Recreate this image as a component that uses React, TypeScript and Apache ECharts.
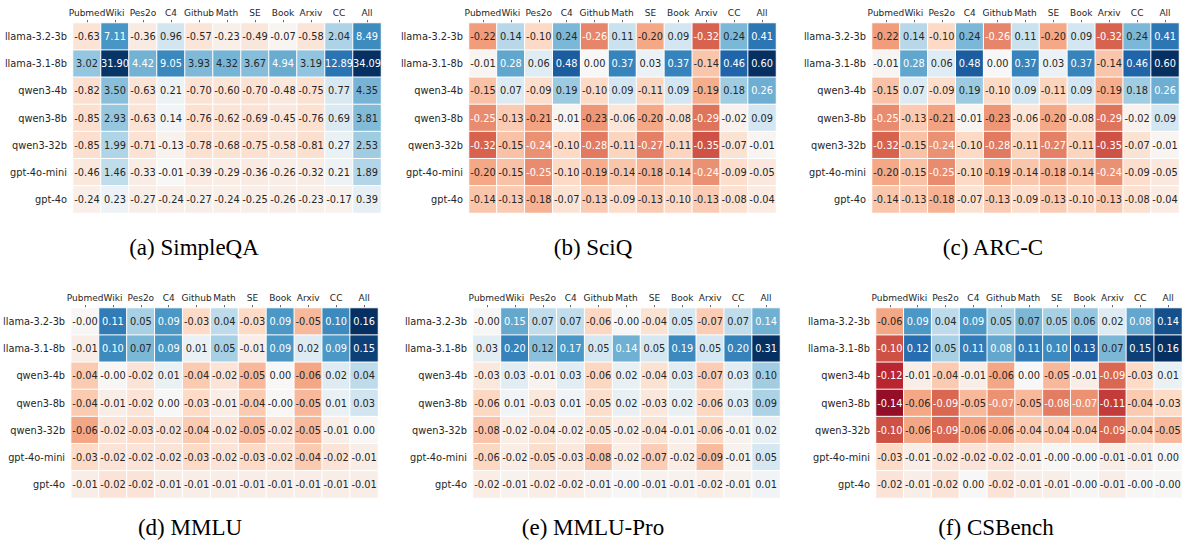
import React, { useEffect, useRef } from "react";
import * as echarts from "echarts";

const MODELS = ["llama-3.2-3b", "llama-3.1-8b", "qwen3-4b", "qwen3-8b", "qwen3-32b", "gpt-4o-mini", "gpt-4o"];
const SOURCES = ["Pubmed", "Wiki", "Pes2o", "C4", "Github", "Math", "SE", "Book", "Arxiv", "CC", "All"];

const SIMPLEQA = [
  [-0.63, 7.11, -0.36, 0.96, -0.57, -0.23, -0.49, -0.07, -0.58, 2.04, 8.49],
  [3.02, 31.9, 4.42, 9.05, 3.93, 4.32, 3.67, 4.94, 3.19, 12.89, 34.09],
  [-0.82, 3.5, -0.63, 0.21, -0.7, -0.6, -0.7, -0.48, -0.75, 0.77, 4.35],
  [-0.85, 2.93, -0.63, 0.14, -0.76, -0.62, -0.69, -0.45, -0.76, 0.69, 3.81],
  [-0.85, 1.99, -0.71, -0.13, -0.78, -0.68, -0.75, -0.58, -0.81, 0.27, 2.53],
  [-0.46, 1.46, -0.33, -0.01, -0.39, -0.29, -0.36, -0.26, -0.32, 0.21, 1.89],
  [-0.24, 0.23, -0.27, -0.24, -0.27, -0.24, -0.25, -0.26, -0.23, -0.17, 0.39],
];

const SCIQ = [
  [-0.22, 0.14, -0.1, 0.24, -0.26, 0.11, -0.2, 0.09, -0.32, 0.24, 0.41],
  [-0.01, 0.28, 0.06, 0.48, 0.0, 0.37, 0.03, 0.37, -0.14, 0.46, 0.6],
  [-0.15, 0.07, -0.09, 0.19, -0.1, 0.09, -0.11, 0.09, -0.19, 0.18, 0.26],
  [-0.25, -0.13, -0.21, -0.01, -0.23, -0.06, -0.2, -0.08, -0.29, -0.02, 0.09],
  [-0.32, -0.15, -0.24, -0.1, -0.28, -0.11, -0.27, -0.11, -0.35, -0.07, -0.01],
  [-0.2, -0.15, -0.25, -0.1, -0.19, -0.14, -0.18, -0.14, -0.24, -0.09, -0.05],
  [-0.14, -0.13, -0.18, -0.07, -0.13, -0.09, -0.13, -0.1, -0.13, -0.08, -0.04],
];

const ARCC = [
  [-0.22, 0.14, -0.1, 0.24, -0.26, 0.11, -0.2, 0.09, -0.32, 0.24, 0.41],
  [-0.01, 0.28, 0.06, 0.48, 0.0, 0.37, 0.03, 0.37, -0.14, 0.46, 0.6],
  [-0.15, 0.07, -0.09, 0.19, -0.1, 0.09, -0.11, 0.09, -0.19, 0.18, 0.26],
  [-0.25, -0.13, -0.21, -0.01, -0.23, -0.06, -0.2, -0.08, -0.29, -0.02, 0.09],
  [-0.32, -0.15, -0.24, -0.1, -0.28, -0.11, -0.27, -0.11, -0.35, -0.07, -0.01],
  [-0.2, -0.15, -0.25, -0.1, -0.19, -0.14, -0.18, -0.14, -0.24, -0.09, -0.05],
  [-0.14, -0.13, -0.18, -0.07, -0.13, -0.09, -0.13, -0.1, -0.13, -0.08, -0.04],
];

const MMLU = [
  [-0.001, 0.11, 0.05, 0.09, -0.03, 0.04, -0.03, 0.09, -0.05, 0.1, 0.16],
  [-0.01, 0.1, 0.07, 0.09, 0.01, 0.05, -0.01, 0.09, 0.02, 0.09, 0.15],
  [-0.04, -0.001, -0.02, 0.01, -0.04, -0.02, -0.05, 0.0, -0.06, 0.02, 0.04],
  [-0.04, -0.01, -0.02, 0.0, -0.03, -0.01, -0.04, -0.001, -0.05, 0.01, 0.03],
  [-0.06, -0.02, -0.03, -0.02, -0.04, -0.02, -0.05, -0.02, -0.05, -0.01, 0.0],
  [-0.03, -0.02, -0.02, -0.02, -0.03, -0.02, -0.03, -0.02, -0.04, -0.02, -0.01],
  [-0.01, -0.02, -0.02, -0.01, -0.01, -0.01, -0.01, -0.01, -0.01, -0.01, -0.01],
];

const MMLU_PRO = [
  [-0.001, 0.15, 0.07, 0.07, -0.06, -0.001, -0.04, 0.05, -0.07, 0.07, 0.14],
  [0.03, 0.2, 0.12, 0.17, 0.05, 0.14, 0.05, 0.19, 0.05, 0.2, 0.31],
  [-0.03, 0.03, -0.01, 0.03, -0.06, 0.02, -0.04, 0.03, -0.07, 0.03, 0.1],
  [-0.06, 0.01, -0.03, 0.01, -0.05, 0.02, -0.03, 0.02, -0.06, 0.03, 0.09],
  [-0.08, -0.02, -0.04, -0.02, -0.05, -0.02, -0.04, -0.01, -0.06, -0.01, 0.02],
  [-0.06, -0.02, -0.05, -0.03, -0.08, -0.02, -0.07, -0.02, -0.09, -0.01, 0.05],
  [-0.02, -0.01, -0.02, -0.02, -0.01, -0.001, -0.01, -0.01, -0.02, -0.01, 0.01],
];

const CSBENCH = [
  [-0.06, 0.09, 0.04, 0.09, 0.05, 0.07, 0.05, 0.06, 0.02, 0.08, 0.14],
  [-0.1, 0.12, 0.05, 0.11, 0.08, 0.11, 0.1, 0.13, 0.07, 0.15, 0.16],
  [-0.12, -0.01, -0.04, -0.01, -0.06, 0.0, -0.05, -0.01, -0.09, -0.03, 0.01],
  [-0.14, -0.06, -0.09, -0.05, -0.07, -0.05, -0.08, -0.07, -0.11, -0.04, -0.03],
  [-0.1, -0.06, -0.09, -0.06, -0.06, -0.04, -0.04, -0.04, -0.09, -0.04, -0.05],
  [-0.03, -0.01, -0.02, -0.02, -0.02, -0.01, -0.001, -0.001, -0.01, -0.01, 0.0],
  [-0.02, -0.01, -0.02, 0.0, -0.02, -0.01, -0.01, -0.001, -0.01, -0.001, -0.001],
];

const CAPTIONS = ["(a) SimpleQA", "(b) SciQ", "(c) ARC-C", "(d) MMLU", "(e) MMLU-Pro", "(f) CSBench"];
const PANEL_VALUES = [SIMPLEQA, SCIQ, ARCC, MMLU, MMLU_PRO, CSBENCH];

const RDBU = ["#67001f", "#b2182b", "#d6604d", "#f4a582", "#fddbc7", "#f7f7f7", "#d1e5f0", "#92c5de", "#4393c3", "#2166ac", "#053061"];

const GRIDS = [
  { left: 73, top: 23, width: 308, height: 190 },
  { left: 469, top: 23, width: 307, height: 190 },
  { left: 872, top: 23, width: 307, height: 190 },
  { left: 69, top: 308, width: 309, height: 190 },
  { left: 473, top: 308, width: 307, height: 190 },
  { left: 876, top: 308, width: 306, height: 190 },
];
const CAPTION_POS = [
  [194, 247], [593, 247], [993, 247],
  [190, 527], [593, 527], [996, 527],
];

const FONT = "DejaVu Sans";
const DARK = "#262626";

function hexToRgb(h: string) {
  const n = parseInt(h.slice(1), 16);
  return [(n >> 16) & 255, (n >> 8) & 255, n & 255];
}

function labelColor(t: number) {
  const p = Math.min(1, Math.max(0, (t + 1) / 2)) * 10;
  const i = Math.min(9, Math.floor(p));
  const f = p - i;
  const a = hexToRgb(RDBU[i]);
  const b = hexToRgb(RDBU[i + 1]);
  const rgb = a.map((c, k) => c + (b[k] - c) * f);
  const lin = rgb.map((c) => {
    const s = c / 255;
    return s <= 0.03928 ? s / 12.92 : Math.pow((s + 0.055) / 1.055, 2.4);
  });
  const L = 0.2126 * lin[0] + 0.7152 * lin[1] + 0.0722 * lin[2];
  return L < 0.408 ? "#ffffff" : DARK;
}

function buildOption() {
  const grid: any[] = [];
  const xAxis: any[] = [];
  const yAxis: any[] = [];
  const series: any[] = [];
  const graphic: any[] = [];

  PANEL_VALUES.forEach((vals, pi) => {
    grid.push({ ...GRIDS[pi], containLabel: false });
    xAxis.push({
      type: "category",
      gridIndex: pi,
      position: "top",
      data: SOURCES,
      axisLine: { show: false },
      axisTick: { show: true, alignWithLabel: true, length: 3, lineStyle: { color: "#666", width: 1 } },
      axisLabel: { interval: 0, margin: 6, fontSize: 9, color: DARK, fontFamily: FONT },
      splitLine: { show: false },
      splitArea: { show: false },
    });
    yAxis.push({
      type: "category",
      gridIndex: pi,
      inverse: true,
      data: MODELS,
      axisLine: { show: false },
      axisTick: { show: false },
      axisLabel: { interval: 0, margin: 6, fontSize: 9.8, color: DARK, fontFamily: FONT },
      splitLine: { show: false },
      splitArea: { show: false },
    });
    let maxAbs = 0;
    vals.forEach((row) => row.forEach((v) => (maxAbs = Math.max(maxAbs, Math.abs(v)))));
    const denom = Math.log1p(maxAbs);
    const data: any[] = [];
    vals.forEach((row, r) =>
      row.forEach((v, c) => {
        const t = (Math.sign(v) * Math.log1p(Math.abs(v))) / denom;
        data.push({ value: [c, r, v, t], label: { color: labelColor(t) } });
      })
    );
    series.push({
      type: "heatmap",
      xAxisIndex: pi,
      yAxisIndex: pi,
      data,
      label: {
        show: true,
        fontSize: 9.8,
        fontFamily: FONT,
        formatter: (p: any) => (p.value[2] as number).toFixed(2),
      },
      itemStyle: { borderColor: "#ffffff", borderWidth: 1 },
      emphasis: { disabled: true },
    });
    graphic.push({
      type: "text",
      x: CAPTION_POS[pi][0],
      y: CAPTION_POS[pi][1],
      style: {
        text: CAPTIONS[pi],
        textAlign: "center",
        textVerticalAlign: "middle",
        fontFamily: "Liberation Serif",
        fontSize: 23,
        fill: "#000",
      },
    });
  });

  return {
    animation: false,
    backgroundColor: "#ffffff",
    grid,
    xAxis,
    yAxis,
    visualMap: {
      type: "continuous",
      show: false,
      dimension: 3,
      min: -1,
      max: 1,
      seriesIndex: [0, 1, 2, 3, 4, 5],
      inRange: { color: RDBU },
    },
    series,
    graphic,
  };
}

export default function App() {
  const ref = useRef<HTMLDivElement>(null);
  useEffect(() => {
    if (!ref.current) return;
    const chart = echarts.init(ref.current, undefined, { renderer: "svg" });
    chart.setOption(buildOption() as any);
    return () => chart.dispose();
  }, []);
  return (
    <div
      ref={ref}
      style={{ position: "absolute", left: 0, top: 0, width: 1182, height: 547, background: "#fff" }}
    />
  );
}
